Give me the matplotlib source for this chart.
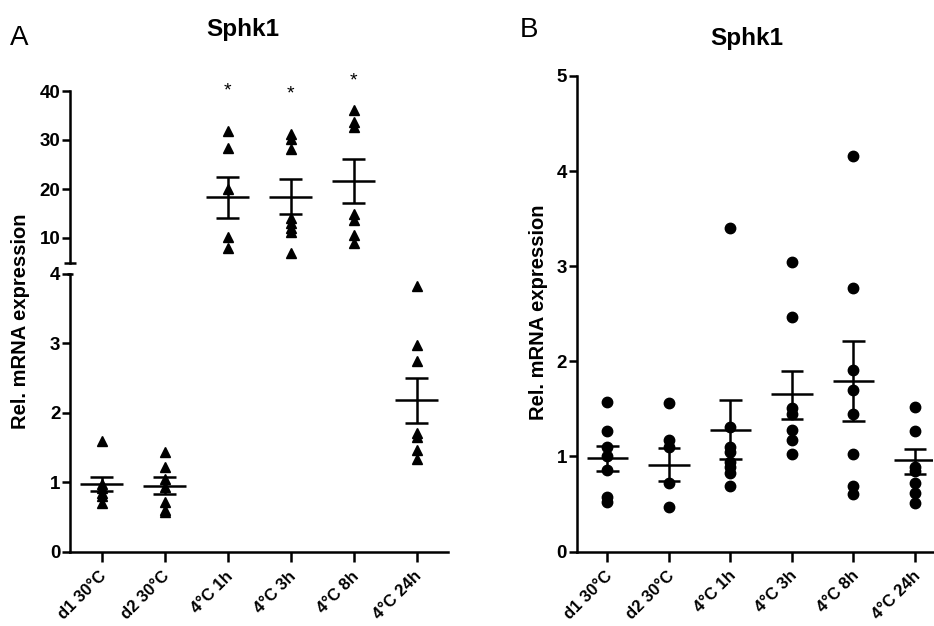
import matplotlib
matplotlib.use("Agg")
import matplotlib.pyplot as plt
import matplotlib.transforms as mtransforms
import numpy as np

plt.rcParams['font.family'] = ['Liberation Sans', 'DejaVu Sans']

# ---------------- data ----------------
categories = ["d1 30°C", "d2 30°C", "4°C 1h", "4°C 3h", "4°C 8h", "4°C 24h"]

# Panel A (triangles, broken axis)
a_d1 = [1.60, 0.97, 0.92, 0.85, 0.80, 0.70]
a_d2 = [1.43, 1.22, 1.05, 0.93, 0.72, 0.60, 0.57]
a_1h = [31.9, 28.4, 19.9, 10.3, 7.9]
a_3h = [31.2, 30.3, 28.2, 14.0, 13.0, 12.0, 11.3, 6.9]
a_8h = [36.1, 33.7, 32.7, 15.0, 13.7, 10.6, 8.9]
a_24h = [3.82, 2.98, 2.74, 1.71, 1.65, 1.47, 1.33]
a_mean = [0.98, 0.95, 18.4, 18.4, 21.6, 2.18]
a_sem_hi = [1.08, 1.07, 22.5, 22.0, 26.1, 2.50]
a_sem_lo = [0.87, 0.83, 14.1, 14.8, 17.1, 1.86]
a_upper_idx = [2, 3, 4]   # groups shown on the upper (5-40) segment
a_lower_idx = [0, 1, 5]   # groups shown on the lower (0-4) segment
star_groups = [2, 3, 4]
star_y = [39.1, 38.4, 41.1]

# Panel B (circles)
b_d1 = [1.57, 1.27, 1.10, 1.00, 0.86, 0.57, 0.52]
b_d2 = [1.56, 1.17, 1.10, 0.72, 0.47]
b_1h = [3.40, 1.31, 1.10, 1.05, 0.94, 0.89, 0.83, 0.69]
b_3h = [3.04, 2.47, 1.51, 1.45, 1.28, 1.17, 1.02]
b_8h = [4.16, 2.77, 1.91, 1.70, 1.45, 1.03, 0.69, 0.60]
b_24h = [1.52, 1.27, 0.89, 0.85, 0.72, 0.62, 0.51]
b_mean = [0.98, 0.91, 1.28, 1.66, 1.79, 0.96]
b_sem_hi = [1.11, 1.09, 1.59, 1.90, 2.21, 1.08]
b_sem_lo = [0.85, 0.74, 0.97, 1.39, 1.37, 0.82]

a_groups = [a_d1, a_d2, a_1h, a_3h, a_8h, a_24h]
b_groups = [b_d1, b_d2, b_1h, b_3h, b_8h, b_24h]

# ---------------- style ----------------
W, H = 934, 626
LW = 1.8
MEAN_HW = 0.34
CAP_HW = 0.18
TICKFS = 13.5
XTICKFS = 12
fig = plt.figure(figsize=(W / 100, H / 100), dpi=100)


def px_ax(left, top, right, bottom):
    return fig.add_axes([left / W, 1 - bottom / H, (right - left) / W, (bottom - top) / H])


def style_axis(ax, show_bottom=True):
    for s in ['top', 'right']:
        ax.spines[s].set_visible(False)
    ax.spines['left'].set_linewidth(LW)
    if show_bottom:
        ax.spines['bottom'].set_linewidth(LW)
    else:
        ax.spines['bottom'].set_visible(False)
    ax.tick_params(axis='y', width=LW, length=6, labelsize=TICKFS, pad=1)
    ax.tick_params(axis='x', width=LW, length=7, labelsize=XTICKFS, pad=5)
    for lab in ax.get_yticklabels():
        lab.set_fontweight('bold')


def draw_groups(ax, groups, means, hi, lo, marker, idx):
    for i in idx:
        g = groups[i]
        ax.plot([i] * len(g), g, linestyle='none', marker=marker, ms=7.5,
                color='black', zorder=3)
        ax.hlines(means[i], i - MEAN_HW, i + MEAN_HW, color='black', lw=LW, zorder=4)
        ax.hlines([hi[i], lo[i]], i - CAP_HW, i + CAP_HW, color='black', lw=LW, zorder=4)
        ax.vlines(i, lo[i], hi[i], color='black', lw=LW, zorder=4)


def set_xlabels(ax):
    ax.set_xticks(np.arange(len(categories)))
    ax.set_xticklabels(categories, rotation=45, ha='right', fontweight='bold',
                       fontsize=XTICKFS)
    off = mtransforms.ScaledTranslation(8 / 100, 0, fig.dpi_scale_trans)
    for lab in ax.get_xticklabels():
        lab.set_transform(lab.get_transform() + off)


# ---------------- Panel A ----------------
axA_up = px_ax(70, 91, 448, 262.5)
axA_lo = px_ax(70, 274, 448, 551.7)
draw_groups(axA_up, a_groups, a_mean, a_sem_hi, a_sem_lo, '^', a_upper_idx)
draw_groups(axA_lo, a_groups, a_mean, a_sem_hi, a_sem_lo, '^', a_lower_idx)
for ax in (axA_up, axA_lo):
    ax.set_xlim(-0.5, 5.5)

axA_up.set_ylim(5, 40)
axA_up.set_yticks([10, 20, 30, 40])
axA_up.set_xticks([])
style_axis(axA_up, show_bottom=False)
axA_lo.set_ylim(0, 4)
axA_lo.set_yticks([0, 1, 2, 3, 4])
style_axis(axA_lo)
set_xlabels(axA_lo)

# break caps
axA_up.plot([-0.5], [5], marker='_', ms=8, mew=LW, color='black', clip_on=False)
axA_lo.plot([-0.5], [4], marker='_', ms=5, mew=LW, color='black', clip_on=False)

for gx, sy in zip(star_groups, star_y):
    axA_up.text(gx, sy, '*', ha='center', va='baseline', fontsize=14,
                clip_on=False)

fig.text(20.5 / W, 1 - 321 / H, 'Rel. mRNA expression', rotation=90,
         ha='center', va='center', fontsize=14.5, fontweight='bold')
fig.text(242.5 / W, 1 - 36 / H, 'Sphk1', ha='center', va='baseline',
         fontsize=17.5, fontweight='bold')
fig.text(10 / W, 1 - 45 / H, 'A', ha='left', va='baseline', fontsize=20)

# ---------------- Panel B ----------------
axB = px_ax(576.7, 76, 933.4, 551.5)
draw_groups(axB, b_groups, b_mean, b_sem_hi, b_sem_lo, 'o', range(len(b_groups)))
axB.set_xlim(-0.5, 5.3)
axB.set_ylim(0, 5)
axB.set_yticks([0, 1, 2, 3, 4, 5])
style_axis(axB)
set_xlabels(axB)

fig.text(538.5 / W, 1 - 312.5 / H, 'Rel. mRNA expression', rotation=90,
         ha='center', va='center', fontsize=14.5, fontweight='bold')
fig.text(746.7 / W, 1 - 45 / H, 'Sphk1', ha='center', va='baseline',
         fontsize=17.5, fontweight='bold')
fig.text(520 / W, 1 - 37 / H, 'B', ha='left', va='baseline', fontsize=20)

fig.savefig('out.png', dpi=100)
